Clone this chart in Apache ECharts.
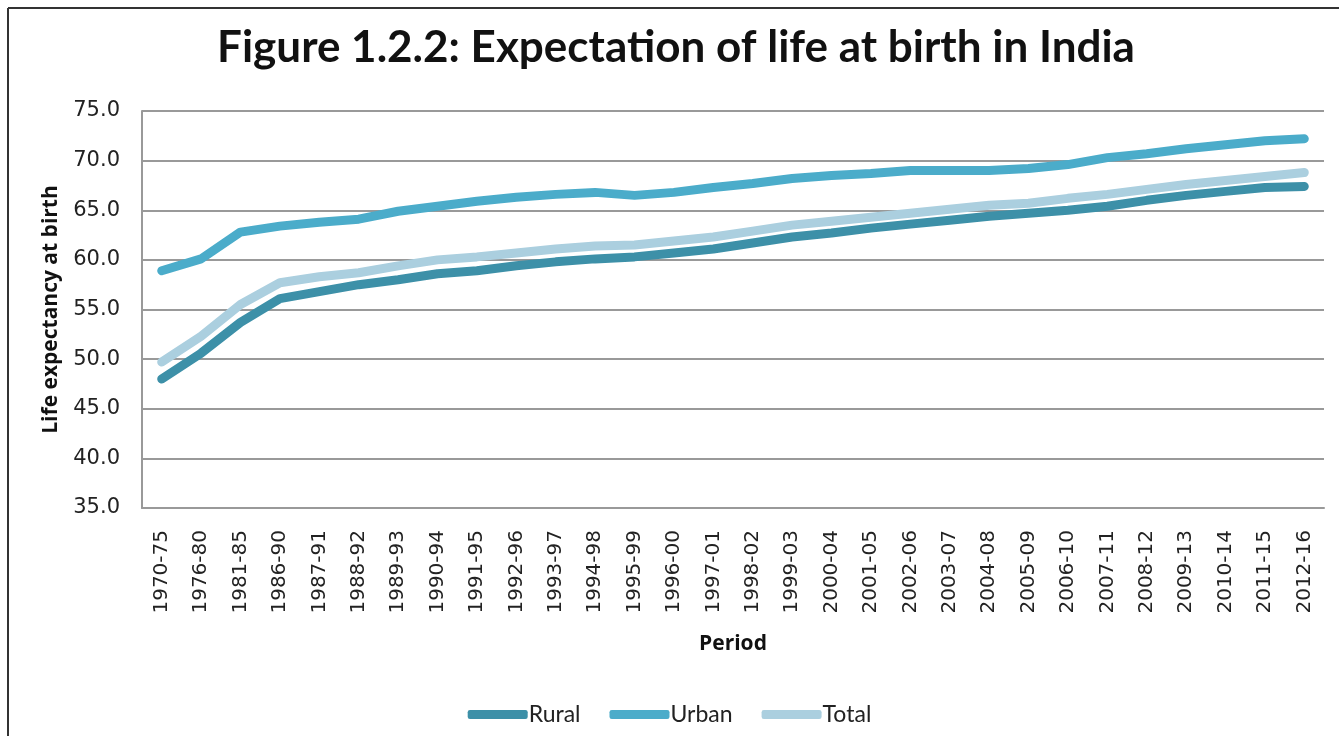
<!DOCTYPE html>
<html>
<head>
<meta charset="utf-8">
<title>Expectation of life at birth in India</title>
<script src="https://cdn.jsdelivr.net/npm/echarts@6/dist/echarts.min.js"></script>
<style>
  html, body { margin: 0; padding: 0; background: #fff; }
  #chart { width: 1339px; height: 736px; }
</style>
</head>
<body>
<div id="chart"></div>
<script>
// periods (SRS abridged life tables)
var periods = ['1970-75', '1976-80', '1981-85', '1986-90', '1987-91', '1988-92', '1989-93',
  '1990-94', '1991-95', '1992-96', '1993-97', '1994-98', '1995-99', '1996-00', '1997-01',
  '1998-02', '1999-03', '2000-04', '2001-05', '2002-06', '2003-07', '2004-08', '2005-09',
  '2006-10', '2007-11', '2008-12', '2009-13', '2010-14', '2011-15', '2012-16'];

var rural = [48.0, 50.6, 53.7, 56.1, 56.8, 57.5, 58.0, 58.6, 58.9, 59.4, 59.8, 60.1, 60.3, 60.7, 61.1,
  61.7, 62.3, 62.7, 63.2, 63.6, 64.0, 64.4, 64.7, 65.0, 65.4, 66.0, 66.5, 66.9, 67.3, 67.4];
var urban = [58.9, 60.1, 62.8, 63.4, 63.8, 64.1, 64.9, 65.4, 65.9, 66.3, 66.6, 66.8, 66.5, 66.8, 67.3,
  67.7, 68.2, 68.5, 68.7, 69.0, 69.0, 69.0, 69.2, 69.6, 70.3, 70.7, 71.2, 71.6, 72.0, 72.2];
var total = [49.7, 52.3, 55.5, 57.7, 58.3, 58.7, 59.4, 60.0, 60.3, 60.7, 61.1, 61.4, 61.5, 61.9, 62.3,
  62.9, 63.5, 63.9, 64.3, 64.7, 65.1, 65.5, 65.7, 66.2, 66.6, 67.1, 67.6, 68.0, 68.4, 68.8];

var seriesNames = ['Rural', 'Urban', 'Total'];
var colors = ['#3d90a8', '#4bacca', '#abcfdf'];

var chart = echarts.init(document.getElementById('chart'));

function makeLine(name, data, color) {
  return {
    name: name,
    type: 'line',
    data: data,
    showSymbol: false,
    symbol: 'none',
    color: color,
    lineStyle: { width: 9, color: color, cap: 'round', join: 'round' },
    animation: false
  };
}

var option = {
  backgroundColor: '#fff',
  animation: false,
  title: {
    text: 'Figure 1.2.2: Expectation of life at birth in India',
    left: 671,
    textAlign: 'center',
    top: 21,
    textStyle: { fontFamily: 'Lato', fontWeight: 'bold', fontSize: 44, color: '#111' }
  },
  legend: {
    data: seriesNames,
    bottom: 5,
    left: 'center',
    icon: 'roundRect',
    itemWidth: 60,
    itemHeight: 9,
    itemGap: 29,
    textStyle: { fontFamily: 'Lato', fontSize: 23, color: '#222', padding: [0, 0, 0, -4] }
  },
  grid: { left: 142, right: 15, top: 111, bottom: 228 },
  xAxis: {
    type: 'category',
    data: periods,
    boundaryGap: true,
    name: 'Period',
    nameLocation: 'middle',
    nameGap: 126,
    nameTextStyle: { fontFamily: 'Open Sans', fontWeight: 'bold', fontSize: 21, color: '#111' },
    axisLine: { lineStyle: { color: '#999', width: 2 } },
    axisTick: { show: false },
    axisLabel: { rotate: 90, margin: 22, interval: 0, fontFamily: 'DejaVu Sans', fontSize: 20, color: '#222' }
  },
  yAxis: {
    type: 'value',
    min: 35,
    max: 75,
    interval: 5,
    name: 'Life expectancy at birth',
    nameLocation: 'middle',
    nameGap: 80,
    nameTextStyle: { fontFamily: 'Open Sans', fontWeight: 'bold', fontSize: 21, color: '#111' },
    axisLine: { show: true, lineStyle: { color: '#999', width: 2 } },
    axisTick: { show: false },
    axisLabel: {
      margin: 22,
      fontFamily: 'DejaVu Sans',
      fontSize: 21,
      color: '#222',
      formatter: function (v) { return v.toFixed(1); }
    },
    splitLine: { lineStyle: { color: '#999', width: 2 } }
  },
  // outer frame: only the left and top edges fall inside the picture
  graphic: [{
    type: 'line',
    shape: { x1: 8, y1: 8, x2: 8, y2: 736 },
    style: { stroke: '#333', lineWidth: 2 },
    silent: true
  }, {
    type: 'line',
    shape: { x1: 8, y1: 8, x2: 1339, y2: 8 },
    style: { stroke: '#333', lineWidth: 2 },
    silent: true
  }],
  series: [
    makeLine(seriesNames[0], rural, colors[0]),
    makeLine(seriesNames[1], urban, colors[1]),
    makeLine(seriesNames[2], total, colors[2])
  ]
};

chart.setOption(option);
</script>
</body>
</html>
